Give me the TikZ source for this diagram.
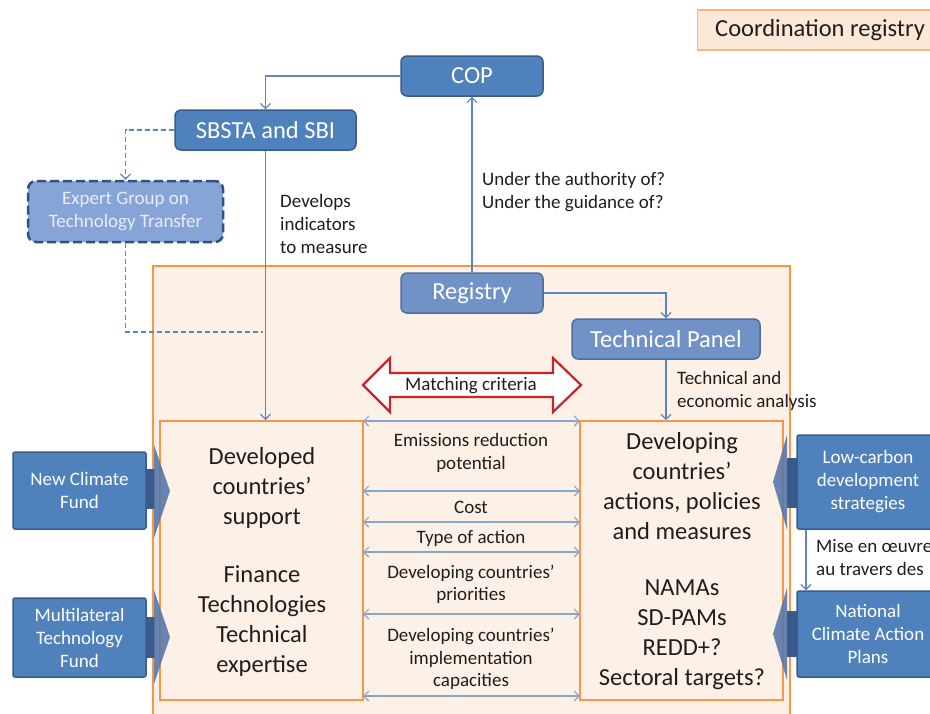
\documentclass[tikz,border=0pt]{standalone}
\usepackage{fontspec}
\setmainfont{Carlito}
\usetikzlibrary{arrows.meta}
\definecolor{bluefill}{HTML}{4F81BD}
\definecolor{blueline}{HTML}{385D8A}
\definecolor{regfill}{HTML}{7092C6}
\definecolor{regline}{HTML}{4E6E9F}
\definecolor{expfill}{HTML}{86A4D6}
\definecolor{expline}{HTML}{2F5185}
\definecolor{orline}{HTML}{F79646}
\definecolor{orfill}{HTML}{FDF1E7}
\definecolor{conn}{HTML}{5B86C2}
\definecolor{midarrow}{HTML}{8AA5CC}
\definecolor{redarrow}{HTML}{C8252B}
\definecolor{blockarr}{HTML}{5A78AA}
\definecolor{blockstem}{HTML}{3A5A8A}
\definecolor{txt}{HTML}{1E1E1E}
\tikzset{
  bigtxt/.style={font=\fontsize{24.5}{30}\selectfont, text=txt, align=center},
  smalltxt/.style={font=\fontsize{19}{22.5}\selectfont, text=txt, align=center},
  lbl/.style={font=\fontsize{19}{23}\selectfont, text=txt, align=left, anchor=west, inner sep=0pt},
  bluebox/.style={draw=blueline, fill=bluefill, line width=1.5pt, text=white, inner sep=0pt, align=center},
  topbox/.style={bluebox, rounded corners=6pt, font=\fontsize{24.5}{28}\selectfont},
  regbox/.style={draw=regline, fill=regfill, line width=1.5pt, rounded corners=6pt, text=white, inner sep=0pt, font=\fontsize{24.5}{28}\selectfont},
  fundbox/.style={bluebox, rounded corners=2pt, font=\fontsize{19}{23}\selectfont},
  conline/.style={draw=conn, line width=1.1pt, -{Straight Barb[length=5pt,width=10pt]}},
  dashline/.style={draw=conn!85!gray, line width=1.1pt, dash pattern=on 5pt off 3pt},
  midarr/.style={draw=midarrow, line width=1.2pt, {Straight Barb[length=5pt,width=10pt]}-{Straight Barb[length=5pt,width=10pt]}},
  orbox/.style={draw=orline, fill=orfill, line width=2pt},
}
\begin{document}
\begin{tikzpicture}[x=1pt,y=-1pt]
\useasboundingbox (0,0) rectangle (930,713);
\clip (0,0) rectangle (930,713);
\fill[white] (0,0) rectangle (930,713);

% coordination registry legend
\node[draw=orline!70, fill=orfill!90!orline, line width=1.2pt, minimum width=250pt, minimum height=40pt, anchor=west, inner sep=0pt] (coord) at (697,30) {};
\node[font=\fontsize{24.5}{28}\selectfont, text=txt, anchor=west, inner sep=0pt] (coordtxt) at (715,30) {Coordination registry};

% big orange registry area
\draw[orbox] (153,266) rectangle (790,740);
\node[orbox, minimum width=203pt, minimum height=279pt, inner sep=0pt] (devbox) at (261.5,560.5) {};
\node[orbox, minimum width=203pt, minimum height=279pt, inner sep=0pt] (dgbox) at (681.5,560.5) {};

% top boxes
\node[topbox, minimum width=142pt, minimum height=40pt] (cop) at (472,76) {COP};
\node[topbox, minimum width=181pt, minimum height=40pt] (sbsta) at (265.5,130) {SBSTA and SBI};
\node[draw=expline, fill=expfill, line width=2.5pt, dash pattern=on 9pt off 4pt, rounded corners=8pt, minimum width=195pt, minimum height=61pt, inner sep=0pt, text=white!92!blue, align=center, font=\fontsize{19}{23}\selectfont] (expert) at (125.5,211.5) {Expert Group on\\Technology Transfer};
\node[regbox, minimum width=142pt, minimum height=40pt] (registry) at (472,293) {Registry};
\node[regbox, minimum width=188pt, minimum height=40pt] (tpanel) at (666,339) {Technical Panel};

% connectors top
\draw[conline] (cop.west) -| (sbsta.north);
\draw[conline] (sbsta.south) -- (sbsta.south |- devbox.north);
\draw[dashline, -{Straight Barb[length=5pt,width=10pt]}] (sbsta.west) -| (expert.north);
\coordinate (dashend) at (263,332);
\draw[dashline] (expert.south) |- (dashend);
\draw[conline] (registry.north) -- (cop.south);
\draw[conline] (registry.east) -| (tpanel.north);
\draw[conline] (tpanel.south) -- (tpanel.south |- dgbox.north);

\node[lbl] (develops) at (280,224) {Develops\\indicators\\to measure};
\node[lbl] (authority) at (482,192.5) {Under the authority of?\\Under the guidance of?};
\node[lbl] (techan) at (677,391) {Technical and\\economic analysis};

% matching criteria red double arrow
\draw[draw=redarrow, fill=white, line width=2.2pt, line join=miter] (363,385) -- (390,358) -- (390,373) -- (553,373) -- (553,358) -- (581,385) -- (553,412) -- (553,397) -- (390,397) -- (390,412) -- cycle;
\node[smalltxt] (matching) at (471,386) {Matching criteria};

% criteria arrows
\coordinate (m1l) at (363,421); \coordinate (m1r) at (580,421);
\coordinate (m2l) at (363,491); \coordinate (m2r) at (580,491);
\coordinate (m3l) at (363,522); \coordinate (m3r) at (580,522);
\coordinate (m4l) at (363,552); \coordinate (m4r) at (580,552);
\coordinate (m5l) at (363,614); \coordinate (m5r) at (580,614);
\coordinate (m6l) at (363,696); \coordinate (m6r) at (580,696);
\draw[midarr] (m1l) -- (m1r);
\draw[midarr] (m2l) -- (m2r);
\draw[midarr] (m3l) -- (m3r);
\draw[midarr] (m4l) -- (m4r);
\draw[midarr] (m5l) -- (m5r);
\draw[midarr] (m6l) -- (m6r);
\node[smalltxt] (c1) at (471,453) {Emissions reduction\\potential};
\node[smalltxt] (c2) at (471,507) {Cost};
\node[smalltxt] (c3) at (471,538) {Type of action};
\node[smalltxt] (c4) at (471,584.5) {Developing countries’\\priorities};
\node[smalltxt] (c5) at (471,659) {Developing countries’\\implementation\\capacities};

% big texts
\node[bigtxt] (dev1) at (262,488) {Developed\\countries’\\support};
\node[bigtxt] (dev2) at (262,621) {Finance\\Technologies\\Technical\\expertise};
\node[bigtxt] (dg1) at (682,486) {Developing\\countries’\\actions, policies\\and measures};
\node[bigtxt] (dg2) at (682,635) {NAMAs\\SD-PAMs\\REDD+?\\Sectoral targets?};

% fund boxes left
\node[fundbox, minimum width=133pt, minimum height=77pt] (ncf) at (79.5,490.5) {New Climate\\Fund};
\node[fundbox, minimum width=133pt, minimum height=79pt] (mtf) at (79.5,637.5) {Multilateral\\Technology\\Fund};
\fill[blockstem] (146,469) rectangle (155,509);
\fill[blockarr, opacity=0.9] (154,445) -- (170,491) -- (154,538) -- cycle;
\fill[blockstem] (146,617) rectangle (155,658);
\fill[blockarr, opacity=0.9] (154,590) -- (170,637) -- (154,684) -- cycle;

% right boxes
\node[fundbox, minimum width=142pt, minimum height=94pt] (lowc) at (868,482) {Low-carbon\\development\\strategies};
\node[fundbox, minimum width=142pt, minimum height=86pt] (ncap) at (868,634) {National\\Climate Action\\Plans};
\fill[blockstem] (787,458) rectangle (797,508);
\fill[blockarr, opacity=0.9] (787,435) -- (773,482) -- (787,530) -- cycle;
\fill[blockstem] (787,611) rectangle (797,657);
\fill[blockarr, opacity=0.9] (787,588) -- (773,634) -- (787,680) -- cycle;

\draw[conline] (lowc.south -| 806,0) -- (ncap.north -| 806,0);
\node[lbl] (mise) at (816,557.5) {Mise en œuvre\\au travers des};
\end{tikzpicture}
\end{document}
